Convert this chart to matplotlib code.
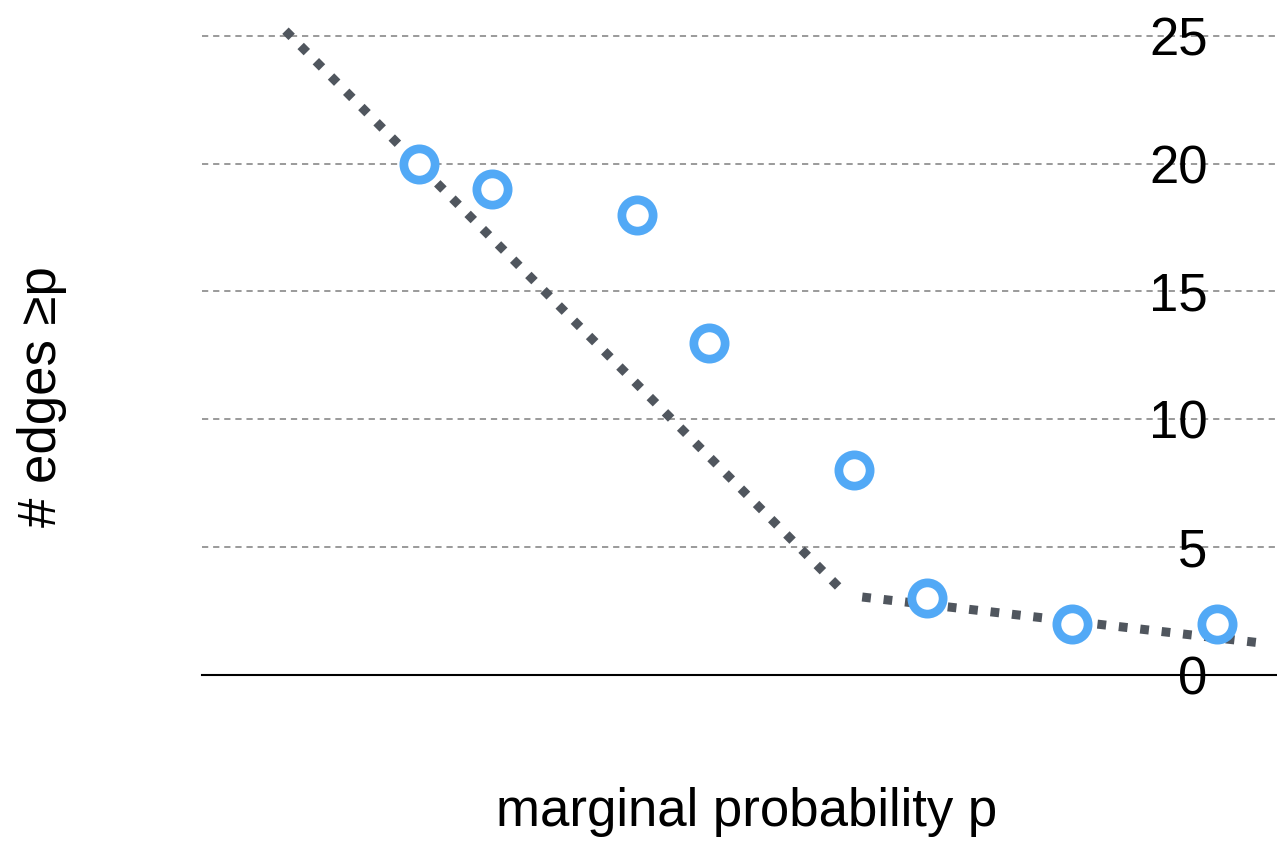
import matplotlib
matplotlib.use("Agg")
import matplotlib.pyplot as plt

plt.rcParams['font.family'] = ['Liberation Sans', 'DejaVu Sans']
plt.rcParams['lines.scale_dashes'] = False

# marginal probability thresholds and number of edges at or above each
p_values = [0.40, 0.45, 0.55, 0.60, 0.70, 0.75, 0.85, 0.95]
edge_counts = [20, 19, 18, 13, 8, 3, 2, 2]

# piecewise linear trend (steep part and flat tail)
trend_head_p = [0.3076, 0.690]
trend_head_y = [25.2, 3.4]
trend_tail_p = [0.7055, 0.978]
trend_tail_y = [3.05, 1.27]

y_ticks = [0, 5, 10, 15, 20, 25]

W, H = 1277, 841
fig = plt.figure(figsize=(W / 100, H / 100), dpi=100)
ax = fig.add_axes([202 / W, (H - 675) / H, 1 - 202 / W, 675 / H])

ax.set_xlim(0.25, 0.9917)
ax.set_ylim(0, 26.4)

for y in y_ticks[1:]:
    ax.axhline(y, color='#9a9a9a', lw=1.4, ls=(0, (4.5, 3.5)), zorder=1)

line_color = '#50565e'
dash = (0, (6.3, 9.2))
ax.plot(trend_head_p, trend_head_y, color=line_color, lw=6.5, ls=dash,
        dash_capstyle='butt', zorder=2)
ax.plot(trend_tail_p, trend_tail_y, color=line_color, lw=6.5, ls=dash,
        dash_capstyle='butt', zorder=2)

ax.plot(p_values, edge_counts, ls='none', marker='o', markersize=22.5,
        markerfacecolor='white', markeredgecolor='#52a9f6',
        markeredgewidth=6.3, zorder=3)

for side in ['top', 'left', 'right']:
    ax.spines[side].set_visible(False)
ax.spines['bottom'].set_color('black')
ax.spines['bottom'].set_linewidth(1.5)
ax.spines['bottom'].set_zorder(4)

ax.set_xticks([])
ax.yaxis.tick_right()
ax.set_yticks(y_ticks)
ax.set_yticklabels([str(t) for t in y_ticks])
ax.tick_params(axis='y', length=0, pad=-50, labelsize=38)
for lbl in ax.get_yticklabels():
    lbl.set_horizontalalignment('right')

fig.text(747 / W, 1 - 812 / H, 'marginal probability p', fontsize=38,
         ha='center', va='center')
fig.text(42 / W, 1 - 397 / H, '# edges ≥p', fontsize=38, rotation=90,
         ha='center', va='center')

fig.savefig('out.png', dpi=100)
